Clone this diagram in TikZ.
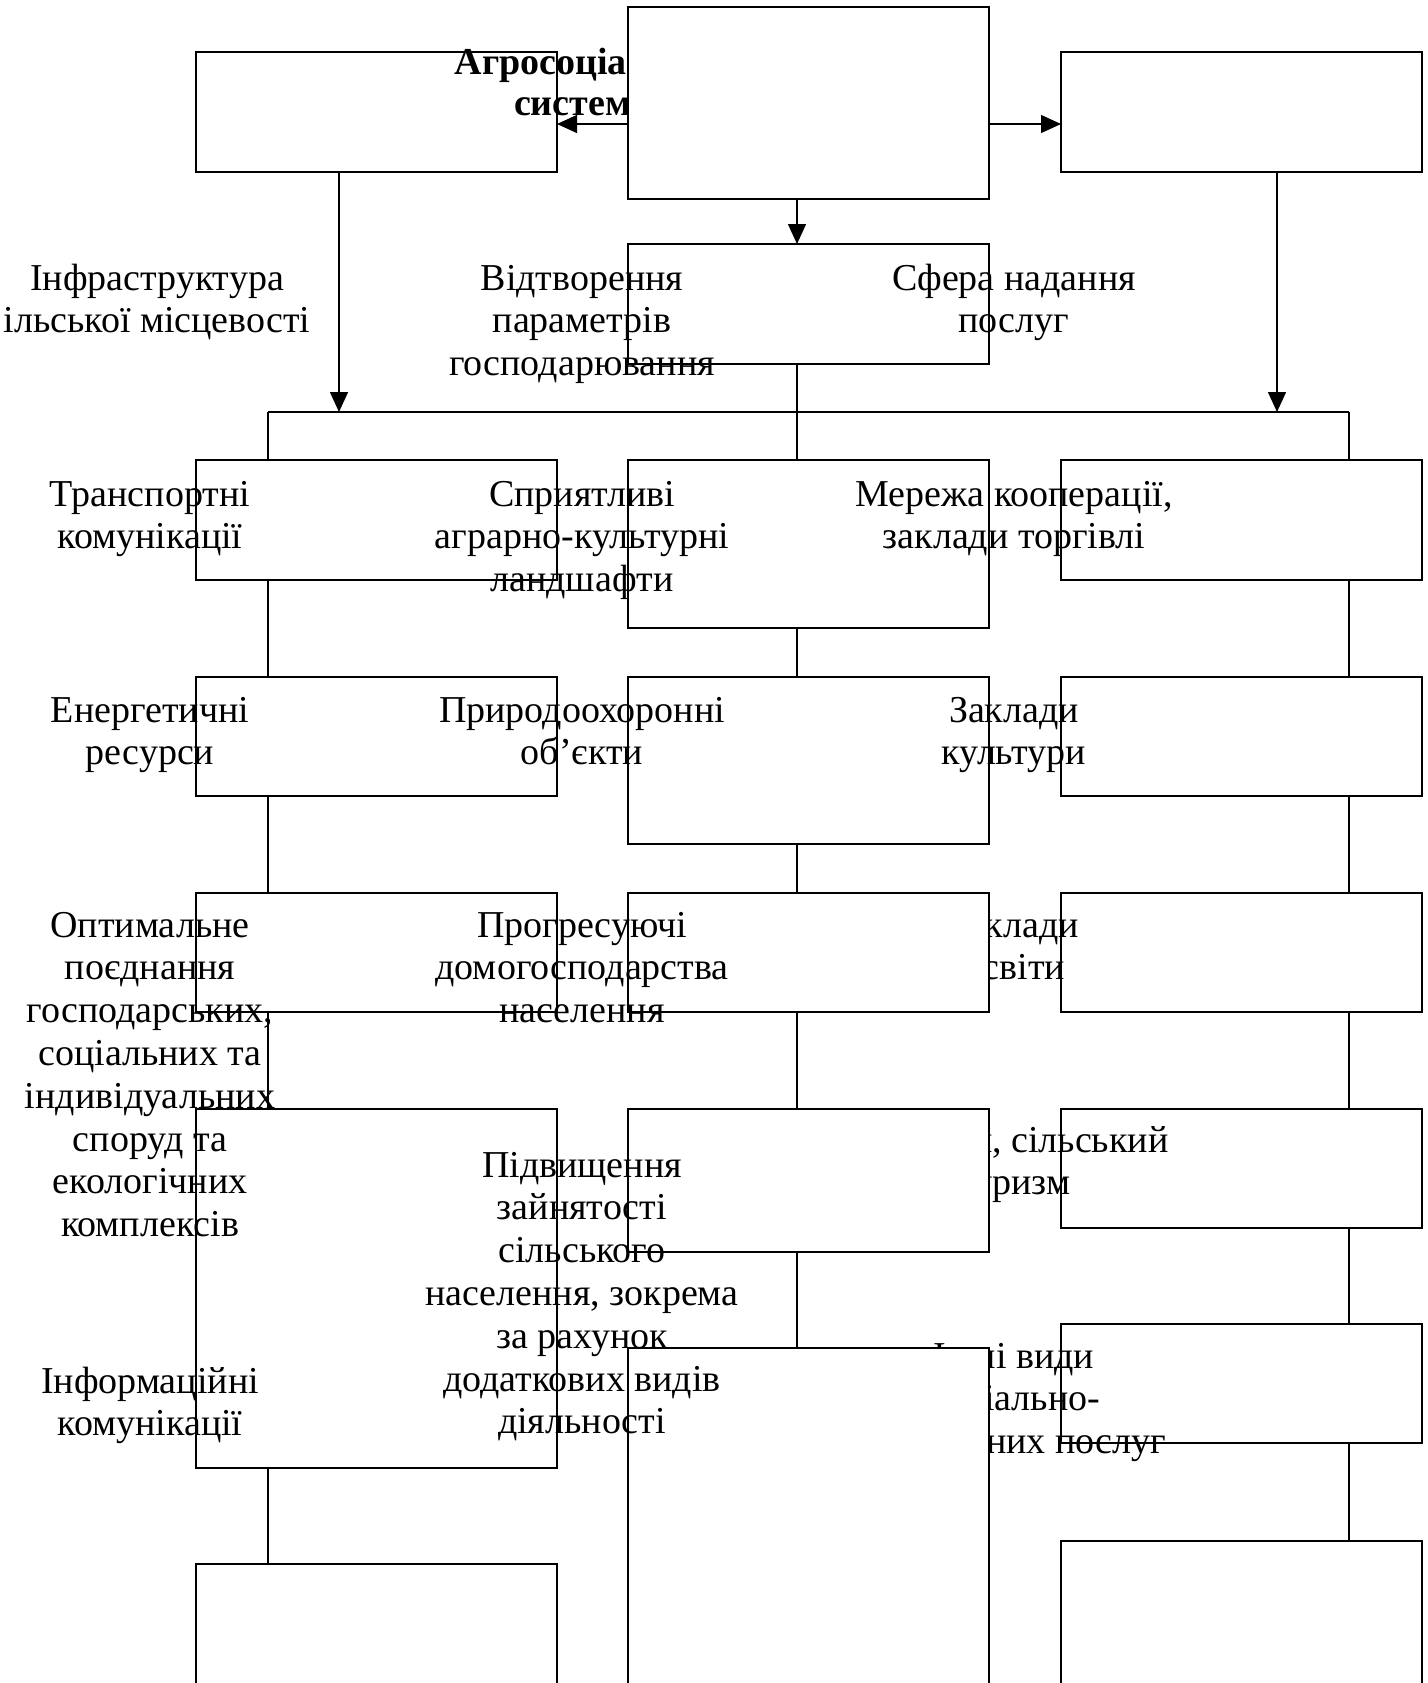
\documentclass[tikz,border=0pt]{standalone}
\usepackage{fontspec}
\setmainfont{Liberation Serif}
\usetikzlibrary{arrows.meta}
\newcommand\mytxt[1]{\begin{tabular}[t]{@{}c@{}}#1\end{tabular}}
\begin{document}
\begin{tikzpicture}[x=0.5pt,y=-0.5pt,
  box/.style={draw, line width=1pt, inner sep=0pt, outer sep=0pt, anchor=north west, minimum width=180.5pt},
  wbox/.style={box, fill=white},
  lbl/.style={inner sep=0pt, outer sep=0pt, anchor=base, font=\fontsize{19pt}{21.4pt}\selectfont},
  blbl/.style={lbl, font=\fontsize{19pt}{20.5pt}\selectfont\bfseries},
  conn/.style={line width=0.7pt},
  arr/.style={conn, -{Triangle[length=10pt,width=9pt]}}]
\useasboundingbox (0,0) rectangle (1428,1683);
\clip (0,0) rectangle (1428,1683);
\renewcommand\arraystretch{1}
% named guide coordinates
\coordinate (ay) at (0,124);
\coordinate (bus) at (0,412);
\coordinate (lx) at (268,0);
\coordinate (cx) at (797,0);
\coordinate (rx) at (1349,0);
\coordinate (ax1) at (339,0);
\coordinate (ax2) at (1277,0);
% top level
\node[box, minimum height=60pt] (tl) at (196,52) {};
\node[box, minimum height=60pt] (tr) at (1061,52) {};
\node[blbl] (title) at (582,74) {\mytxt{Агросоціальна\\система}};
\node[wbox, minimum height=96pt] (top) at (628,7) {};
\node[box, minimum height=60pt] (mid) at (628,244) {};
% column boxes
\node[box, minimum height=60pt] (l1) at (196,460) {};
\node[box, minimum height=59.5pt] (l2) at (196,677) {};
\node[box, minimum height=59.5pt] (l3) at (196,893) {};
\node[box, minimum height=179.5pt] (l4) at (196,1109) {};
\node[box, minimum height=100pt] (l5) at (196,1564) {};
\node[box, minimum height=84pt] (c1) at (628,460) {};
\node[box, minimum height=83.5pt] (c2) at (628,677) {};
\node[box, minimum height=60pt] (r1) at (1061,460) {};
\node[box, minimum height=59.5pt] (r2) at (1061,677) {};
\node[box, minimum height=59.5pt] (r3) at (1061,893) {};
\node[box, minimum height=59.5pt] (r4) at (1061,1109) {};
\node[box, minimum height=59.5pt] (r5) at (1061,1324) {};
\node[box, minimum height=100pt] (r6) at (1061,1541) {};
% right texts partly hidden by middle boxes
\node[lbl] (zo) at (1014,937) {\mytxt{Заклади\\освіти}};
\node[lbl] (got) at (1014,1152) {\mytxt{Зелений, сільський\\туризм}};
\node[lbl] (inshi) at (1014,1368) {\mytxt{Інші види\\соціально-\\культурних послуг}};
% white middle boxes
\node[wbox, minimum height=59.5pt] (c3) at (628,893) {};
\node[wbox, minimum height=71.5pt] (c4) at (628,1109) {};
\node[wbox, minimum height=200pt] (c5) at (628,1348) {};
% connectors
\draw[arr] (top.west |- ay) -- (tl.east |- ay);
\draw[arr] (top.east |- ay) -- (tr.west |- ay);
\draw[arr] (top.south -| cx) -- (mid.north -| cx);
\draw[arr] (tl.south -| ax1) -- (ax1 |- bus);
\draw[arr] (tr.south -| ax2) -- (ax2 |- bus);
\draw[conn] (lx |- bus) -- (rx |- bus);
\draw[conn] (mid.south -| cx) -- (c1.north -| cx);
\draw[conn] (lx |- bus) -- (l1.north -| lx);
\draw[conn] (rx |- bus) -- (r1.north -| rx);
\draw[conn] (l1.south -| lx) -- (l2.north -| lx);
\draw[conn] (l2.south -| lx) -- (l3.north -| lx);
\draw[conn] (l3.south -| lx) -- (l4.north -| lx);
\draw[conn] (l4.south -| lx) -- (l5.north -| lx);
\draw[conn] (c1.south -| cx) -- (c2.north -| cx);
\draw[conn] (c2.south -| cx) -- (c3.north -| cx);
\draw[conn] (c3.south -| cx) -- (c4.north -| cx);
\draw[conn] (c4.south -| cx) -- (c5.north -| cx);
\draw[conn] (r1.south -| rx) -- (r2.north -| rx);
\draw[conn] (r2.south -| rx) -- (r3.north -| rx);
\draw[conn] (r3.south -| rx) -- (r4.north -| rx);
\draw[conn] (r4.south -| rx) -- (r5.north -| rx);
\draw[conn] (r5.south -| rx) -- (r6.north -| rx);
% visible texts
\node[lbl] (inf) at (157,290) {\mytxt{Інфраструктура\\ільської місцевості}};
\node[lbl] (vid) at (582,290) {\mytxt{Відтворення\\параметрів\\господарювання}};
\node[lbl] (sf) at (1014,290) {\mytxt{Сфера надання\\послуг}};
\node[lbl] (tk) at (150,506) {\mytxt{Транспортні\\комунікації}};
\node[lbl] (spr) at (582,506) {\mytxt{Сприятливі\\аграрно-культурні\\ландшафти}};
\node[lbl] (mer) at (1014,506) {\mytxt{Мережа кооперації,\\заклади торгівлі}};
\node[lbl] (en) at (150,722) {\mytxt{Енергетичні\\ресурси}};
\node[lbl] (pr) at (582,722) {\mytxt{Природоохоронні\\об’єкти}};
\node[lbl] (zk) at (1014,722) {\mytxt{Заклади\\культури}};
\node[lbl] (opt) at (150,937) {\mytxt{Оптимальне\\поєднання\\господарських,\\соціальних та\\індивідуальних\\споруд та\\екологічних\\комплексів}};
\node[lbl] (prog) at (582,937) {\mytxt{Прогресуючі\\домогосподарства\\населення}};
\node[lbl] (pidv) at (582,1177) {\mytxt{Підвищення\\зайнятості\\сільського\\населення, зокрема\\за рахунок\\додаткових видів\\діяльності}};
\node[lbl] (ik) at (150,1393) {\mytxt{Інформаційні\\комунікації}};
\end{tikzpicture}
\end{document}
